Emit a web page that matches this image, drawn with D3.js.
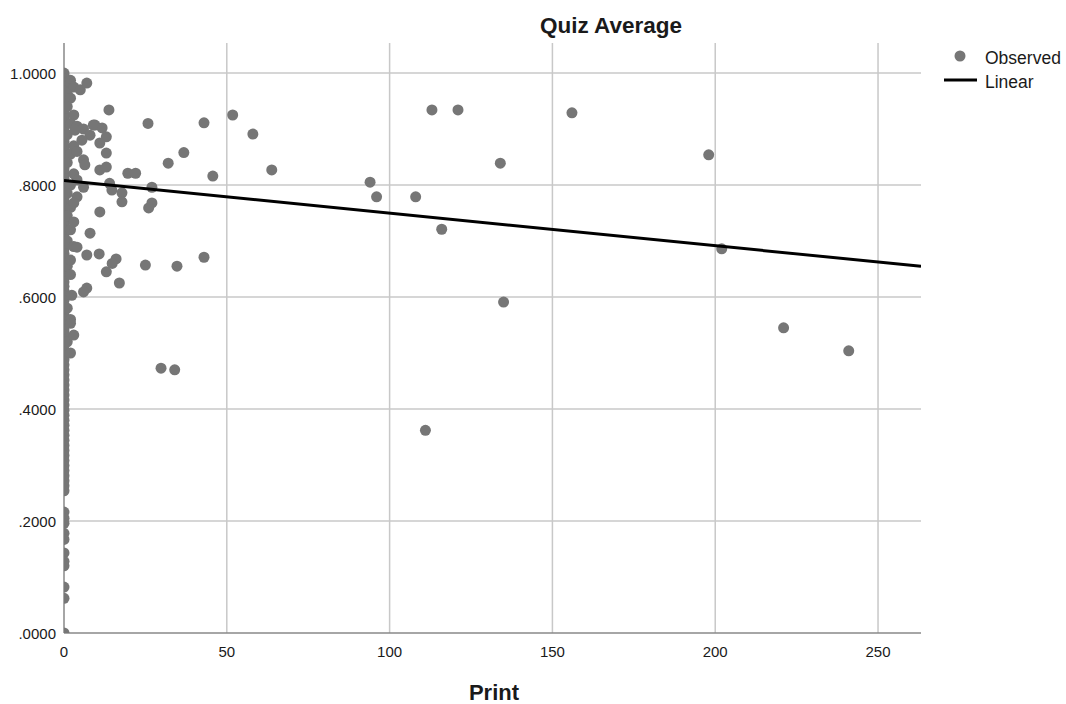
<!DOCTYPE html>
<html>
<head>
<meta charset="utf-8">
<script src="https://cdn.jsdelivr.net/npm/d3@7"></script>
<style>
  body { margin: 0; background: #fff; }
  text { font-family: "Liberation Sans", Arial, sans-serif; fill: #1a1a1a; }
</style>
</head>
<body>
<svg id="chart"></svg>
<script>
// quiz averages of students with Print = 0 (the dense column on the axis)
const zeroPrintQuiz = [1.0, .996, .99, .983, .975, .968, .96, .951, .944, .936, .927, .919, .911, .903,
  .894, .886, .878, .869, .861, .853, .845, .836, .829, .82, .812, .803, .795, .787, .778, .77,
  .761, .753, .745, .736, .728, .72, .711, .703, .694, .686, .678, .669, .661, .652, .644, .636,
  .627, .619, .611, .602, .594, .585, .577, .568, .56, .551, .541, .533, .524, .515, .506, .497,
  .488, .479, .47, .461, .452, .443, .434, .425, .416, .407, .398, .389, .38, .371, .362, .353,
  .344, .335, .326, .317, .308, .299, .29, .281, .272, .263, .254, .216, .205, .196, .178, .167,
  .143, .128, .12, .082, .062, 0];

// the other students: Print count and quiz average
const printCounts = [
  2, 3, 5, 7, 1, 2, 1, 3, 2, 4, 1, 3, 2, 4, 1, 3, 2, 1, 2, 1, 2, 1, 3, 1, 2, 1, 2, 1,
  13.8, 6, 9.5, 11.7, 13, 8, 11, 13, 6, 11, 13, 19.6, 22, 4, 6, 14, 14.7, 17.8, 17.8, 4, 3,
  11, 3, 8, 4, 7, 10.8, 16, 14.8, 13, 17, 7, 6, 2.4, 2, 3, 2, 2, 6.4, 3.4, 5.5, 9,
  25.8, 27, 27, 26, 25, 34.7, 43, 29.8, 34, 51.8, 58, 63.8, 43, 45.7, 36.8, 32,
  94, 96, 108, 116, 113, 121, 134, 135, 156, 198, 202, 221, 241, 111
];
const quizAverages = [
  .987, .975, .97, .982, .964, .955, .94, .925, .91, .905, .89, .87, .855, .86, .84, .82, .80, .785, .76, .745, .72, .70, .69, .655, .64, .58, .56, .52,
  .934, .90, .907, .902, .886, .889, .875, .857, .845, .827, .832, .821, .821, .809, .796, .803, .791, .786, .770, .779, .768,
  .752, .734, .714, .689, .675, .677, .668, .660, .645, .625, .616, .609, .603, .553, .532, .500, .666, .836, .898, .88, .907,
  .910, .796, .768, .759, .657, .655, .671, .473, .470, .925, .891, .827, .911, .816, .858, .839,
  .805, .779, .779, .721, .934, .934, .839, .591, .929, .854, .686, .545, .504, .362
];

// linear fit
const fitIntercept = 0.808;
const fitSlope = -0.000582;

const xTicks = [0, 50, 100, 150, 200, 250];
const yTicks = [0, 0.2, 0.4, 0.6, 0.8, 1.0];
const legendItems = ["Observed", "Linear"];

let width = 1066, height = 704;
let m = {left: 64, right: 921, top: 43, bottom: 633};

let svg = d3.select("#chart").attr("width", width).attr("height", height);

let x = d3.scaleLinear().domain([0, 263.2]).range([m.left, m.right]);
let y = d3.scaleLinear().domain([0, 1.0536]).range([m.bottom, m.top]);

let points = zeroPrintQuiz.map(q => ({print: 0, quiz: q}))
  .concat(printCounts.map((p, i) => ({print: p, quiz: quizAverages[i]})));

svg.append("defs").append("clipPath").attr("id", "plotclip")
  .append("rect").attr("x", m.left).attr("y", m.top - 10)
  .attr("width", m.right - m.left).attr("height", m.bottom - m.top + 10);

// grid
let grid = svg.append("g");
grid.selectAll("line.v").data(xTicks.slice(1)).enter().append("line")
  .attr("x1", d => x(d)).attr("x2", d => x(d))
  .attr("y1", m.top).attr("y2", m.bottom)
  .attr("stroke", "#c8c8c8").attr("stroke-width", 1.5);
grid.selectAll("line.h").data(yTicks.slice(1)).enter().append("line")
  .attr("x1", m.left).attr("x2", m.right)
  .attr("y1", d => y(d)).attr("y2", d => y(d))
  .attr("stroke", "#c8c8c8").attr("stroke-width", 1.5);

// axes lines
svg.append("line").attr("x1", m.left).attr("x2", m.left).attr("y1", m.top).attr("y2", m.bottom)
  .attr("stroke", "#888").attr("stroke-width", 1.5);
svg.append("line").attr("x1", m.left).attr("x2", m.right).attr("y1", m.bottom).attr("y2", m.bottom)
  .attr("stroke", "#888").attr("stroke-width", 1.5);

// points
let plot = svg.append("g").attr("clip-path", "url(#plotclip)");
plot.selectAll("circle").data(points).enter().append("circle")
  .attr("cx", d => x(d.print)).attr("cy", d => y(d.quiz)).attr("r", 5.5)
  .attr("fill", "#767676");

// fit line
let line = d3.line().x(d => x(d)).y(d => y(fitIntercept + fitSlope * d));
plot.append("path").attr("d", line(x.domain()))
  .attr("fill", "none").attr("stroke", "#000").attr("stroke-width", 3);

// tick labels
let fmt = d => d3.format(".4f")(d).replace(/^0\./, ".");
svg.selectAll("text.xt").data(xTicks).enter().append("text")
  .attr("x", d => x(d)).attr("y", m.bottom + 24)
  .attr("text-anchor", "middle").style("font-size", "15px").text(d => d);
svg.selectAll("text.yt").data(yTicks).enter().append("text")
  .attr("x", m.left - 8).attr("y", d => y(d) + 6)
  .attr("text-anchor", "end").style("font-size", "15px").text(fmt);

// titles
svg.append("text").attr("x", 611).attr("y", 33).attr("text-anchor", "middle")
  .style("font-size", "22.5px").style("font-weight", "bold").text("Quiz Average");
svg.append("text").attr("x", 494).attr("y", 700).attr("text-anchor", "middle")
  .style("font-size", "22px").style("font-weight", "bold").text("Print");

// legend
let legend = svg.append("g");
legend.append("circle").attr("cx", 960).attr("cy", 56).attr("r", 5.5).attr("fill", "#767676");
legend.append("line").attr("x1", 944).attr("x2", 977).attr("y1", 80).attr("y2", 80)
  .attr("stroke", "#000").attr("stroke-width", 3);
legend.selectAll("text").data(legendItems).enter().append("text")
  .attr("x", 985).attr("y", (d, i) => 64 + i * 24)
  .style("font-size", "17.5px").text(d => d);
</script>
</body>
</html>
